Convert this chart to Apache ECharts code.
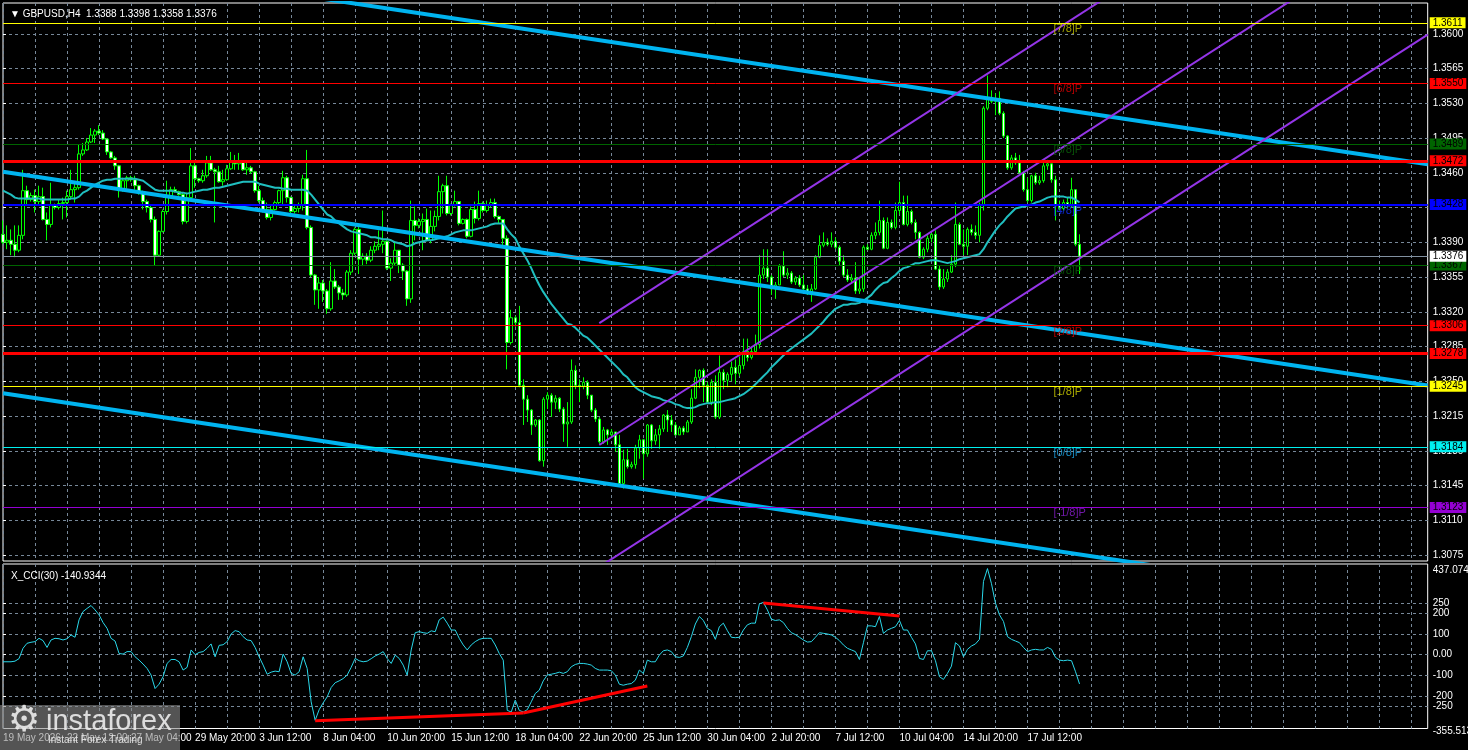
<!DOCTYPE html>
<html lang="en">
<head>
<meta charset="UTF-8">
<title>GBPUSD,H4</title>
<script src="https://cdn.jsdelivr.net/npm/echarts@6/dist/echarts.min.js"></script>
<style>
  html, body { margin: 0; padding: 0; background: #000; }
  #chart { width: 1468px; height: 750px; }
</style>
</head>
<body>
<div id="chart"></div>
<script>
// ---------- data ----------
var symbol = 'GBPUSD,H4';

// one label every 16 bars, starting at bar 0
var timeLabels = ['19 May 2026', '22 May 12:00', '27 May 04:00', '29 May 20:00', '3 Jun 12:00',
  '8 Jun 04:00', '10 Jun 20:00', '15 Jun 12:00', '18 Jun 04:00', '22 Jun 20:00', '25 Jun 12:00',
  '30 Jun 04:00', '2 Jul 20:00', '7 Jul 12:00', '10 Jul 04:00', '14 Jul 20:00', '17 Jul 12:00'];

var opens = [
  1.3398,1.3390,1.3392,1.3388,1.3382,1.3397,1.3442,1.3433,1.3437,1.3431,
  1.3436,1.3413,1.3408,1.3427,1.3425,1.3429,1.3430,1.3436,1.3443,1.3445,
  1.3479,1.3483,1.3491,1.3498,1.3502,1.3500,1.3494,1.3481,1.3475,1.3467,
  1.3442,1.3452,1.3455,1.3453,1.3447,1.3440,1.3431,1.3425,1.3413,1.3377,
  1.3401,1.3421,1.3436,1.3443,1.3441,1.3438,1.3411,1.3435,1.3467,1.3454,
  1.3452,1.3457,1.3470,1.3463,1.3461,1.3451,1.3453,1.3464,1.3471,1.3469,
  1.3471,1.3463,1.3465,1.3461,1.3442,1.3432,1.3423,1.3415,1.3423,1.3430,
  1.3442,1.3455,1.3435,1.3421,1.3424,1.3427,1.3454,1.3405,1.3357,1.3342,
  1.3349,1.3341,1.3323,1.3351,1.3345,1.3339,1.3337,1.3360,1.3379,1.3403,
  1.3373,1.3376,1.3372,1.3382,1.3386,1.3388,1.3391,1.3364,1.3369,1.3382,
  1.3367,1.3361,1.3333,1.3412,1.3407,1.3411,1.3413,1.3392,1.3406,1.3416,
  1.3441,1.3447,1.3419,1.3427,1.3431,1.3409,1.3413,1.3396,1.3423,1.3414,
  1.3429,1.3422,1.3427,1.3430,1.3416,1.3413,1.3394,1.3289,1.3314,1.3309,
  1.3246,1.3232,1.3221,1.3206,1.3211,1.3170,1.3232,1.3236,1.3229,1.3233,
  1.3222,1.3207,1.3209,1.3261,1.3246,1.3245,1.3249,1.3236,1.3221,1.3212,
  1.3189,1.3201,1.3196,1.3199,1.3186,1.3147,1.3171,1.3164,1.3166,1.3183,
  1.3191,1.3177,1.3206,1.3190,1.3196,1.3202,1.3216,1.3211,1.3206,1.3196,
  1.3203,1.3199,1.3209,1.3233,1.3254,1.3261,1.3246,1.3229,1.3249,1.3214,
  1.3259,1.3251,1.3257,1.3264,1.3258,1.3266,1.3280,1.3274,1.3280,1.3287,
  1.3357,1.3364,1.3355,1.3343,1.3347,1.3366,1.3357,1.3359,1.3350,1.3354,
  1.3347,1.3343,1.3338,1.3343,1.3375,1.3387,1.3390,1.3388,1.3391,1.3385,
  1.3371,1.3357,1.3352,1.3354,1.3341,1.3343,1.3385,1.3383,1.3397,1.3400,
  1.3412,1.3384,1.3410,1.3405,1.3422,1.3430,1.3408,1.3421,1.3410,1.3400,
  1.3375,1.3383,1.3394,1.3398,1.3363,1.3345,1.3353,1.3360,1.3368,1.3408,
  1.3388,1.3386,1.3403,1.3400,1.3397,1.3428,1.3525,1.3535,1.3532,1.3535,
  1.3520,1.3497,1.3465,1.3475,1.3470,1.3460,1.3443,1.3432,1.3457,1.3450,
  1.3452,1.3467,1.3469,1.3453,1.3427,1.3424,1.3430,1.3427,1.3443,1.3388
];
var highs = [
  1.3412,1.3407,1.3403,1.3407,1.3407,1.3463,1.3447,1.3440,1.3443,1.3447,
  1.3445,1.3420,1.3450,1.3429,1.3433,1.3435,1.3442,1.3463,1.3450,1.3488,
  1.3490,1.3495,1.3505,1.3504,1.3508,1.3503,1.3495,1.3482,1.3477,1.3468,
  1.3455,1.3457,1.3457,1.3457,1.3448,1.3442,1.3433,1.3427,1.3416,1.3402,
  1.3423,1.3452,1.3446,1.3446,1.3442,1.3440,1.3440,1.3485,1.3472,1.3455,
  1.3463,1.3477,1.3477,1.3465,1.3467,1.3463,1.3468,1.3481,1.3478,1.3480,
  1.3472,1.3470,1.3467,1.3462,1.3447,1.3435,1.3430,1.3428,1.3432,1.3443,
  1.3462,1.3457,1.3436,1.3428,1.3430,1.3458,1.3483,1.3407,1.3358,1.3355,
  1.3352,1.3343,1.3370,1.3363,1.3347,1.3343,1.3362,1.3382,1.3405,1.3408,
  1.3379,1.3379,1.3386,1.3391,1.3402,1.3422,1.3392,1.3374,1.3391,1.3382,
  1.3369,1.3362,1.3432,1.3426,1.3414,1.3419,1.3424,1.3422,1.3422,1.3457,
  1.3449,1.3457,1.3429,1.3442,1.3431,1.3414,1.3414,1.3426,1.3431,1.3442,
  1.3431,1.3432,1.3434,1.3434,1.3417,1.3413,1.3397,1.3322,1.3316,1.3326,
  1.3252,1.3236,1.3222,1.3212,1.3212,1.3234,1.3239,1.3238,1.3236,1.3234,
  1.3224,1.3229,1.3272,1.3266,1.3252,1.3254,1.3251,1.3236,1.3223,1.3214,
  1.3204,1.3202,1.3202,1.3199,1.3196,1.3181,1.3182,1.3169,1.3186,1.3196,
  1.3192,1.3207,1.3207,1.3202,1.3206,1.3217,1.3221,1.3216,1.3209,1.3205,
  1.3205,1.3211,1.3242,1.3262,1.3262,1.3263,1.3249,1.3252,1.3256,1.3276,
  1.3262,1.3259,1.3270,1.3272,1.3275,1.3293,1.3293,1.3285,1.3297,1.3377,
  1.3383,1.3383,1.3357,1.3350,1.3368,1.3381,1.3364,1.3361,1.3356,1.3357,
  1.3357,1.3347,1.3348,1.3377,1.3397,1.3400,1.3394,1.3400,1.3395,1.3387,
  1.3377,1.3363,1.3358,1.3370,1.3353,1.3387,1.3388,1.3400,1.3410,1.3432,
  1.3415,1.3415,1.3413,1.3430,1.3451,1.3437,1.3437,1.3423,1.3413,1.3401,
  1.3385,1.3397,1.3400,1.3402,1.3367,1.3363,1.3363,1.3377,1.3430,1.3410,
  1.3403,1.3405,1.3408,1.3407,1.3430,1.3527,1.3558,1.3543,1.3540,1.3542,
  1.3522,1.3498,1.3478,1.3480,1.3478,1.3462,1.3455,1.3458,1.3460,1.3457,
  1.3470,1.3473,1.3470,1.3457,1.3432,1.3433,1.3435,1.3455,1.3443,1.3398
];
var lows = [
  1.3388,1.3383,1.3377,1.3375,1.3380,1.3393,1.3427,1.3431,1.3420,1.3427,
  1.3412,1.3392,1.3405,1.3423,1.3423,1.3413,1.3415,1.3433,1.3430,1.3443,
  1.3477,1.3482,1.3490,1.3490,1.3498,1.3493,1.3478,1.3474,1.3463,1.3435,
  1.3441,1.3444,1.3451,1.3443,1.3438,1.3423,1.3420,1.3410,1.3367,1.3376,
  1.3400,1.3418,1.3435,1.3440,1.3437,1.3408,1.3409,1.3433,1.3445,1.3450,
  1.3450,1.3455,1.3462,1.3410,1.3450,1.3447,1.3452,1.3463,1.3463,1.3463,
  1.3462,1.3458,1.3459,1.3440,1.3430,1.3420,1.3413,1.3412,1.3422,1.3428,
  1.3428,1.3430,1.3419,1.3419,1.3420,1.3422,1.3403,1.3355,1.3327,1.3323,
  1.3330,1.3318,1.3321,1.3343,1.3332,1.3332,1.3335,1.3357,1.3377,1.3358,
  1.3366,1.3368,1.3370,1.3379,1.3382,1.3379,1.3362,1.3351,1.3367,1.3359,
  1.3352,1.3326,1.3329,1.3392,1.3404,1.3382,1.3391,1.3389,1.3401,1.3412,
  1.3419,1.3417,1.3417,1.3426,1.3407,1.3408,1.3394,1.3395,1.3409,1.3412,
  1.3420,1.3420,1.3425,1.3414,1.3409,1.3386,1.3262,1.3287,1.3305,1.3244,
  1.3206,1.3209,1.3196,1.3204,1.3169,1.3164,1.3222,1.3214,1.3222,1.3219,
  1.3189,1.3184,1.3207,1.3242,1.3229,1.3242,1.3232,1.3219,1.3209,1.3187,
  1.3187,1.3186,1.3194,1.3179,1.3144,1.3142,1.3162,1.3162,1.3162,1.3172,
  1.3152,1.3174,1.3182,1.3186,1.3182,1.3199,1.3199,1.3199,1.3196,1.3196,
  1.3196,1.3199,1.3207,1.3232,1.3243,1.3229,1.3227,1.3226,1.3212,1.3212,
  1.3242,1.3244,1.3250,1.3247,1.3255,1.3262,1.3270,1.3272,1.3278,1.3283,
  1.3353,1.3350,1.3337,1.3333,1.3347,1.3355,1.3353,1.3348,1.3347,1.3345,
  1.3342,1.3337,1.3330,1.3342,1.3374,1.3385,1.3386,1.3385,1.3383,1.3367,
  1.3355,1.3350,1.3350,1.3338,1.3338,1.3340,1.3382,1.3382,1.3393,1.3397,
  1.3383,1.3383,1.3403,1.3403,1.3418,1.3407,1.3406,1.3408,1.3393,1.3374,
  1.3373,1.3380,1.3390,1.3362,1.3342,1.3343,1.3350,1.3359,1.3365,1.3387,
  1.3377,1.3377,1.3397,1.3393,1.3390,1.3422,1.3523,1.3530,1.3518,1.3518,
  1.3495,1.3463,1.3463,1.3468,1.3460,1.3441,1.3430,1.3430,1.3448,1.3448,
  1.3450,1.3463,1.3450,1.3412,1.3422,1.3422,1.3424,1.3425,1.3386,1.3358
];
var closes = [
  1.3390,1.3392,1.3388,1.3382,1.3397,1.3442,1.3433,1.3437,1.3431,1.3436,
  1.3413,1.3408,1.3427,1.3425,1.3429,1.3430,1.3436,1.3443,1.3445,1.3479,
  1.3483,1.3491,1.3498,1.3502,1.3500,1.3494,1.3481,1.3475,1.3467,1.3442,
  1.3452,1.3455,1.3453,1.3447,1.3440,1.3431,1.3425,1.3413,1.3377,1.3401,
  1.3421,1.3436,1.3443,1.3441,1.3438,1.3411,1.3435,1.3467,1.3454,1.3452,
  1.3457,1.3470,1.3463,1.3461,1.3451,1.3453,1.3464,1.3471,1.3469,1.3471,
  1.3463,1.3465,1.3461,1.3442,1.3432,1.3423,1.3415,1.3423,1.3430,1.3442,
  1.3455,1.3435,1.3421,1.3424,1.3427,1.3454,1.3405,1.3357,1.3342,1.3349,
  1.3341,1.3323,1.3351,1.3345,1.3339,1.3337,1.3360,1.3379,1.3403,1.3373,
  1.3376,1.3372,1.3382,1.3386,1.3388,1.3391,1.3364,1.3369,1.3382,1.3367,
  1.3361,1.3333,1.3412,1.3407,1.3411,1.3413,1.3392,1.3406,1.3416,1.3441,
  1.3447,1.3419,1.3427,1.3431,1.3409,1.3413,1.3396,1.3423,1.3414,1.3429,
  1.3422,1.3427,1.3430,1.3416,1.3413,1.3394,1.3289,1.3314,1.3309,1.3246,
  1.3232,1.3221,1.3206,1.3211,1.3170,1.3232,1.3236,1.3229,1.3233,1.3222,
  1.3207,1.3209,1.3261,1.3246,1.3245,1.3249,1.3236,1.3221,1.3212,1.3189,
  1.3201,1.3196,1.3199,1.3186,1.3147,1.3171,1.3164,1.3166,1.3183,1.3191,
  1.3177,1.3206,1.3190,1.3196,1.3202,1.3216,1.3211,1.3206,1.3196,1.3203,
  1.3199,1.3209,1.3233,1.3254,1.3261,1.3246,1.3229,1.3249,1.3214,1.3259,
  1.3251,1.3257,1.3264,1.3258,1.3266,1.3280,1.3274,1.3280,1.3287,1.3357,
  1.3364,1.3355,1.3343,1.3347,1.3366,1.3357,1.3359,1.3350,1.3354,1.3347,
  1.3343,1.3338,1.3343,1.3375,1.3387,1.3390,1.3388,1.3391,1.3385,1.3371,
  1.3357,1.3352,1.3354,1.3341,1.3343,1.3385,1.3383,1.3397,1.3400,1.3412,
  1.3384,1.3410,1.3405,1.3422,1.3430,1.3408,1.3421,1.3410,1.3400,1.3375,
  1.3383,1.3394,1.3398,1.3363,1.3345,1.3353,1.3360,1.3368,1.3408,1.3388,
  1.3386,1.3403,1.3400,1.3397,1.3428,1.3525,1.3535,1.3532,1.3535,1.3520,
  1.3497,1.3465,1.3475,1.3470,1.3460,1.3443,1.3432,1.3457,1.3450,1.3452,
  1.3467,1.3469,1.3453,1.3427,1.3424,1.3430,1.3427,1.3443,1.3388,1.3376
];

// moving average line as drawn on the chart
var ma = [
  1.3442,1.3440,1.3438,1.3435,1.3434,1.3434,1.3434,1.3434,1.3434,1.3434,
  1.3433,1.3433,1.3433,1.3433,1.3433,1.3433,1.3433,1.3434,1.3434,1.3436,
  1.3440,1.3442,1.3445,1.3448,1.3450,1.3452,1.3453,1.3453,1.3454,1.3454,
  1.3454,1.3454,1.3454,1.3454,1.3453,1.3452,1.3449,1.3446,1.3443,1.3442,
  1.3442,1.3442,1.3442,1.3441,1.3440,1.3440,1.3439,1.3440,1.3441,1.3442,
  1.3443,1.3443,1.3444,1.3445,1.3445,1.3446,1.3447,1.3448,1.3449,1.3450,
  1.3451,1.3451,1.3451,1.3451,1.3449,1.3448,1.3447,1.3446,1.3445,1.3445,
  1.3444,1.3444,1.3443,1.3443,1.3443,1.3443,1.3442,1.3438,1.3433,1.3428,
  1.3423,1.3418,1.3416,1.3412,1.3409,1.3406,1.3403,1.3401,1.3400,1.3399,
  1.3398,1.3397,1.3395,1.3395,1.3394,1.3393,1.3393,1.3392,1.3390,1.3389,
  1.3388,1.3386,1.3387,1.3389,1.3390,1.3391,1.3392,1.3392,1.3393,1.3394,
  1.3395,1.3396,1.3398,1.3400,1.3401,1.3402,1.3402,1.3402,1.3403,1.3404,
  1.3405,1.3406,1.3408,1.3409,1.3409,1.3409,1.3403,1.3398,1.3394,1.3386,
  1.3379,1.3372,1.3364,1.3355,1.3347,1.3340,1.3334,1.3328,1.3323,1.3318,
  1.3313,1.3308,1.3307,1.3304,1.3300,1.3296,1.3294,1.3290,1.3286,1.3282,
  1.3278,1.3274,1.3270,1.3266,1.3262,1.3257,1.3254,1.3249,1.3244,1.3241,
  1.3239,1.3237,1.3235,1.3234,1.3233,1.3231,1.3230,1.3229,1.3227,1.3226,
  1.3224,1.3223,1.3223,1.3224,1.3226,1.3227,1.3228,1.3228,1.3229,1.3229,
  1.3230,1.3231,1.3232,1.3233,1.3235,1.3237,1.3240,1.3243,1.3247,1.3251,
  1.3255,1.3259,1.3264,1.3268,1.3272,1.3276,1.3280,1.3283,1.3286,1.3289,
  1.3292,1.3295,1.3298,1.3302,1.3306,1.3310,1.3315,1.3319,1.3323,1.3325,
  1.3327,1.3327,1.3328,1.3328,1.3329,1.3331,1.3334,1.3337,1.3342,1.3346,
  1.3349,1.3350,1.3354,1.3357,1.3361,1.3364,1.3365,1.3367,1.3369,1.3369,
  1.3370,1.3371,1.3372,1.3372,1.3371,1.3370,1.3369,1.3370,1.3371,1.3373,
  1.3374,1.3375,1.3376,1.3377,1.3378,1.3383,1.3390,1.3396,1.3402,1.3407,
  1.3411,1.3416,1.3420,1.3424,1.3425,1.3426,1.3427,1.3428,1.3430,1.3431,
  1.3433,1.3435,1.3436,1.3436,1.3436,1.3436,1.3435,1.3435,1.3433,1.3430
];

// X_CCI(30)
var cci = [
  -34,-34,-34,-31,-19,31,55,60,63,79,
  68,35,71,79,77,71,77,95,84,168,
  208,223,237,216,192,155,127,79,66,6,
  3,15,15,-10,-26,-45,-66,-98,-163,-142,
  -106,-42,-23,-23,-34,-74,-61,23,0,11,
  15,31,52,-10,45,48,63,100,116,111,
  87,71,68,35,-10,-50,-94,-84,-79,-82,
  3,-34,-90,-98,-82,-10,-66,-227,-316,-265,
  -232,-203,-158,-135,-126,-115,-98,-61,-18,-29,
  -34,-31,-19,-6,3,15,-18,-42,-2,-18,
  -50,-98,23,106,111,106,103,115,111,168,
  181,152,119,119,79,47,23,47,63,74,
  79,79,79,47,6,-26,-268,-276,-219,-268,
  -276,-265,-227,-187,-171,-126,-98,-94,-90,-84,
  -90,-82,-58,-47,-42,-42,-45,-50,-66,-74,
  -74,-74,-77,-98,-142,-147,-142,-139,-123,-74,
  -90,-26,-34,-34,-2,19,23,15,-10,-13,
  -6,35,87,148,184,165,127,116,74,135,
  152,116,84,82,84,119,144,152,152,245,
  252,216,171,165,168,155,127,106,97,84,
  71,61,63,84,106,103,100,95,84,68,
  47,31,23,15,-23,58,139,139,135,184,
  103,119,127,135,165,119,119,84,52,-18,
  -23,19,19,-29,-106,-119,-90,-55,58,42,
  -10,26,42,52,74,353,415,342,248,192,
  160,87,74,66,58,35,15,23,26,23,
  23,35,26,-13,-26,-29,-26,-29,-82,-140.9344
];

var priceTicks = [1.3075, 1.3110, 1.3145, 1.3180, 1.3215, 1.3250, 1.3285, 1.3320,
  1.3355, 1.3390, 1.3425, 1.3460, 1.3495, 1.3530, 1.3565, 1.3600];
var cciTicks = [250, 200, 100, 0, -100, -200, -250];
var cciMax = 437.0745;
var cciMin = -355.513;

var murrayLevels = [1.3611, 1.3550, 1.3489, 1.3428, 1.3367, 1.3306, 1.3245, 1.3184, 1.3123];
var murrayNames = ['[7/8]P', '[6/8]P', '[5/8]P', '[4/8]P', '[3/8]P', '[2/8]P', '[1/8]P', '[0/8]P', '[-1/8]P'];
var supportLevels = [1.3472, 1.3278];

// trend lines as [bar, price] end points
var downChannel = [
  [[0, 1.36835], [356, 1.34686]],
  [[0, 1.34611], [356, 1.32457]],
  [[0, 1.32380], [356, 1.30231]]
];
var upChannel = [
  [[149, 1.33086], [356, 1.38447]],
  [[149, 1.31858], [356, 1.37219]],
  [[149, 1.30630], [356, 1.35991]]
];
var cciTrend = [
  [[78, -318], [130, -281]],
  [[130, -281], [161, -151]],
  [[190, 249], [224, 187]]
];

// ---------- look ----------
var FONT = '"Liberation Sans", Arial, sans-serif';
var GRIDC = '#778899';
var slots = 357;                 // bars that fit across the window, incl. the empty shift
var priceMin = 1.3069, priceMax = 1.3631;
var murrayColors = ['#ffff00', '#ff0000', '#006400', '#0000ff', '#006400', '#ff0000', '#ffff00', '#00f0f0', '#9400d3'];
var murrayWidths = [1, 1, 1, 2, 1, 1, 1, 1, 1];
var murrayTextColors = ['#c8c800', '#e00000', '#0a640a', '#1030ff', '#0a640a', '#e00000', '#d2d200', '#1aa6e8', '#8c1ed2'];
var murrayLabelBar = 262.6;

var last = closes.length - 1;
var cats = [];
for (var i = 0; i < slots; i++) cats.push(String(i));

var candleData = opens.map(function (o, k) { return [o, closes[k], lows[k], highs[k]]; });

function levelLine(v, color, width, bg) {
  return {
    yAxis: v,
    lineStyle: { color: color, width: width, type: 'solid' },
    label: {
      show: true, position: 'end', distance: 2, formatter: v.toFixed(4),
      backgroundColor: bg, color: '#000', fontFamily: FONT, fontSize: 10,
      lineHeight: 11, padding: [0, 3, 0, 3]
    }
  };
}

var levelLines = [];
murrayLevels.forEach(function (v, k) {
  levelLines.push(levelLine(v, murrayColors[k], murrayWidths[k], murrayColors[k]));
});
supportLevels.forEach(function (v) { levelLines.push(levelLine(v, '#ff0000', 3, '#ff0000')); });
levelLines.push(levelLine(closes[last], '#8190a0', 1, '#ffffff'));

var header = '\u25BC ' + symbol + '  ' +
  [opens[last], highs[last], lows[last], closes[last]].map(function (v) { return v.toFixed(4); }).join(' ');
var cciTitle = 'X_CCI(30) ' + cci[last].toFixed(4);

function straight(points, color, width, xi, yi) {
  return {
    type: 'line', xAxisIndex: xi, yAxisIndex: yi, data: points, symbol: 'none',
    silent: true, clip: true, lineStyle: { color: color, width: width }, z: 4
  };
}

var series = [
  {
    type: 'candlestick', xAxisIndex: 0, yAxisIndex: 0, data: candleData, barWidth: 3,
    silent: true, z: 2,
    itemStyle: { color: '#000', color0: '#fff', borderColor: '#00ff00', borderColor0: '#00ff00', borderWidth: 1 }
  },
  {
    type: 'line', xAxisIndex: 0, yAxisIndex: 0, data: ma, symbol: 'none', silent: true, z: 3,
    lineStyle: { color: '#20bfc0', width: 2 },
    markLine: { symbol: ['none', 'none'], precision: 4, silent: true, animation: false, data: levelLines }
  }
];
downChannel.forEach(function (p) { series.push(straight(p, '#00b4f0', 4, 1, 0)); });
upChannel.forEach(function (p) { series.push(straight(p, '#9435e8', 2, 1, 0)); });
series.push({
  type: 'scatter', xAxisIndex: 1, yAxisIndex: 0, symbolSize: 1, silent: true, z: 5,
  itemStyle: { color: 'transparent' },
  data: murrayLevels.map(function (v, k) {
    return { value: [murrayLabelBar, v], name: murrayNames[k], label: { color: murrayTextColors[k] } };
  }),
  label: { show: true, position: [0, 1], formatter: '{b}', fontFamily: FONT, fontSize: 11 }
});
series.push({
  type: 'line', xAxisIndex: 2, yAxisIndex: 1, data: cci, symbol: 'none', silent: true,
  lineStyle: { color: '#2ad8ea', width: 1 }
});
cciTrend.forEach(function (p) { series.push(straight(p, '#ff0000', 3, 3, 1)); });

var gridLine = { show: true, lineStyle: { color: GRIDC, type: [3, 3], width: 1 } };
function vSplit() {
  return { show: true, interval: function (idx) { return idx % 8 === 0; }, lineStyle: gridLine.lineStyle };
}

var option = {
  animation: false,
  backgroundColor: '#000',
  title: [
    { text: header, left: 5, top: 4, textStyle: { color: '#fff', fontFamily: FONT, fontSize: 10, fontWeight: 'normal' } },
    { text: cciTitle, left: 6, top: 566, textStyle: { color: '#fff', fontFamily: FONT, fontSize: 10, fontWeight: 'normal' } }
  ],
  grid: [
    { left: 3, right: 40.3, top: 3, height: 558, show: true, borderColor: '#fff', borderWidth: 1,
      backgroundColor: '#000', outerBoundsMode: 'none', containLabel: false },
    { left: 3, right: 40.3, top: 564, height: 164.5, show: true, borderColor: '#fff', borderWidth: 1,
      backgroundColor: '#000', outerBoundsMode: 'none', containLabel: false }
  ],
  xAxis: [
    { type: 'category', gridIndex: 0, data: cats, boundaryGap: false,
      axisLine: { show: false }, axisTick: { show: false }, axisLabel: { show: false }, splitLine: vSplit() },
    { type: 'value', gridIndex: 0, min: 0, max: slots - 1, show: false },
    { type: 'category', gridIndex: 1, data: cats, boundaryGap: false,
      axisLine: { show: false },
      axisTick: { show: true, length: 3, interval: function (idx) { return idx % 8 === 0; }, lineStyle: { color: '#9aa4b0' } },
      axisLabel: {
        show: true, color: '#fff', fontFamily: FONT, fontSize: 10, align: 'left', margin: 5,
        interval: function (idx) { return idx % 16 === 0 && idx / 16 < timeLabels.length; },
        formatter: function (val, idx) { return timeLabels[idx / 16] || ''; }
      },
      splitLine: vSplit() },
    { type: 'value', gridIndex: 1, min: 0, max: slots - 1, show: false }
  ],
  yAxis: [
    { type: 'value', gridIndex: 0, position: 'right', min: priceMin, max: priceMax,
      axisLine: { show: false },
      axisTick: { show: true, length: 3, customValues: priceTicks, lineStyle: { color: '#fff' } },
      axisLabel: { customValues: priceTicks, color: '#fff', fontFamily: FONT, fontSize: 10, margin: 5,
        formatter: function (v) { return v.toFixed(4); } },
      splitLine: gridLine },
    { type: 'value', gridIndex: 1, position: 'right', min: cciMin, max: cciMax,
      axisLine: { show: false },
      axisTick: { show: true, length: 3, customValues: cciTicks, lineStyle: { color: '#fff' } },
      axisLabel: {
        customValues: [cciMax].concat(cciTicks, [cciMin]),
        color: '#fff', fontFamily: FONT, fontSize: 10, margin: 5,
        formatter: function (v) {
          if (v === cciMax) return '{t|' + cciMax + '}';
          if (v === cciMin) return '{b|' + cciMin + '}';
          return v === 0 ? '0.00' : String(v);
        },
        rich: {
          t: { color: '#fff', fontFamily: FONT, fontSize: 10, padding: [12, 0, 0, 0] },
          b: { color: '#fff', fontFamily: FONT, fontSize: 10, padding: [5, 0, 0, 0] }
        }
      },
      splitLine: gridLine }
  ],
  graphic: [
    { type: 'rect', left: 0, top: 705, z: 100, shape: { width: 180, height: 45 },
      style: { fill: 'rgba(140,140,140,0.6)' } },
    { type: 'text', left: 8, top: 704, z: 101,
      style: { text: '\u2699', font: '36px "DejaVu Sans"', fill: 'rgba(235,235,235,0.9)' } },
    { type: 'text', left: 46, top: 707, z: 101,
      style: { text: 'instaforex', font: '29px "Liberation Sans"', fill: 'rgba(235,235,235,0.9)' } },
    { type: 'text', left: 48, top: 735, z: 101,
      style: { text: 'Instant Forex Trading', font: '10px "Liberation Sans"', fill: 'rgba(235,235,235,0.9)' } }
  ],
  series: series
};

var myChart = echarts.init(document.getElementById('chart'));
myChart.setOption(option);
</script>
</body>
</html>
